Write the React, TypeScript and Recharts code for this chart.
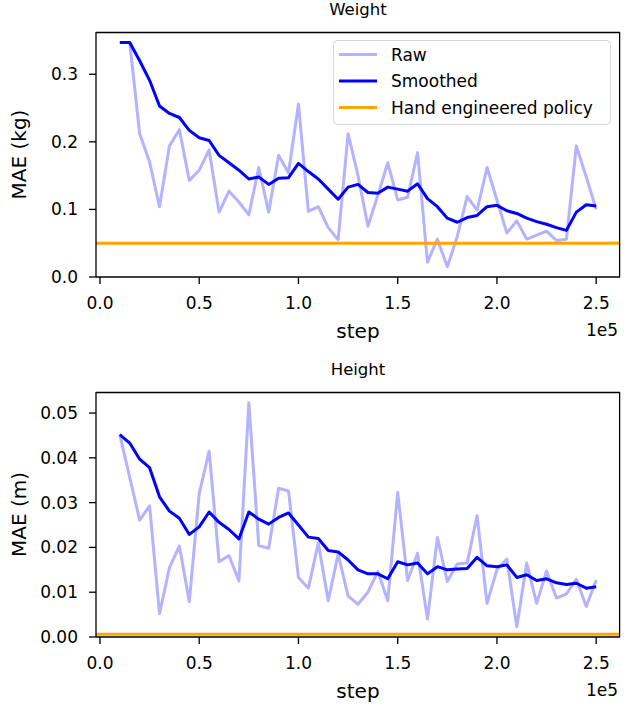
import React from 'react';
import { LineChart, Line, XAxis, YAxis, ReferenceLine, Label } from 'recharts';

// training steps of every logged point
const STEPS = [
  10000, 15000, 20000, 25000, 30000, 35000, 40000, 45000, 50000, 55000,
  60000, 65000, 70000, 75000, 80000, 85000, 90000, 95000, 100000, 105000,
  110000, 115000, 120000, 125000, 130000, 135000, 140000, 145000, 150000, 155000,
  160000, 165000, 170000, 175000, 180000, 185000, 190000, 195000, 200000, 205000,
  210000, 215000, 220000, 225000, 230000, 235000, 240000, 245000, 250000,
];

const WEIGHT_RAW = [
  0.347, 0.347, 0.212, 0.17, 0.104, 0.194, 0.218, 0.143, 0.158, 0.188,
  0.096, 0.127, 0.111, 0.092, 0.162, 0.096, 0.18, 0.154, 0.256, 0.097,
  0.104, 0.073, 0.055, 0.212, 0.15, 0.075, 0.121, 0.169, 0.114, 0.118,
  0.184, 0.022, 0.056, 0.015, 0.06, 0.119, 0.099, 0.162, 0.114, 0.065,
  0.083, 0.056, 0.062, 0.068, 0.054, 0.056, 0.194, 0.148, 0.1,
];

const WEIGHT_SMOOTHED = [
  0.347, 0.347, 0.32, 0.291, 0.253, 0.242, 0.236, 0.217, 0.206, 0.202,
  0.18, 0.169, 0.158, 0.145, 0.148, 0.137, 0.146, 0.147, 0.168, 0.156,
  0.145, 0.13, 0.115, 0.133, 0.137, 0.125, 0.124, 0.133, 0.13, 0.127,
  0.138, 0.116, 0.104, 0.087, 0.081, 0.088, 0.091, 0.104, 0.106, 0.098,
  0.094, 0.087, 0.082, 0.078, 0.073, 0.069, 0.096, 0.107, 0.105,
];

const HEIGHT_RAW = [
  0.0452, 0.0356, 0.0261, 0.0293, 0.0052, 0.0155, 0.0203, 0.0079, 0.032, 0.0415,
  0.0168, 0.0182, 0.0125, 0.0523, 0.0204, 0.0198, 0.0332, 0.0326, 0.0133, 0.0109,
  0.021, 0.0081, 0.0185, 0.0092, 0.0073, 0.01, 0.0146, 0.0081, 0.0323, 0.0126,
  0.0187, 0.004, 0.0222, 0.0124, 0.0163, 0.0165, 0.0271, 0.0075, 0.015, 0.0174,
  0.0023, 0.0165, 0.0075, 0.0147, 0.0087, 0.0096, 0.0129, 0.0068, 0.0127,
];

const HEIGHT_SMOOTHED = [
  0.0452, 0.0433, 0.0397, 0.0378, 0.0313, 0.0281, 0.0265, 0.0229, 0.0246, 0.0279,
  0.0256, 0.024, 0.0219, 0.0279, 0.0263, 0.0252, 0.0267, 0.0277, 0.025, 0.0223,
  0.022, 0.0193, 0.019, 0.0172, 0.015, 0.0141, 0.0141, 0.013, 0.0168, 0.0161,
  0.0165, 0.0141, 0.0157, 0.015, 0.0152, 0.0153, 0.0178, 0.0159, 0.0157, 0.0161,
  0.0133, 0.0139, 0.0126, 0.013, 0.0121, 0.0117, 0.012, 0.0109, 0.0112,
];

const WEIGHT_POLICY = 0.05;
const HEIGHT_POLICY = 0.0006;

const X_TICKS = [0, 50000, 100000, 150000, 200000, 250000];
const WEIGHT_TICKS = [0, 0.1, 0.2, 0.3];
const HEIGHT_TICKS = [0, 0.01, 0.02, 0.03, 0.04, 0.05];

const RAW_COLOR = '#b3b3ff';
const SMOOTH_COLOR = '#0000ff';
const POLICY_COLOR = '#ffa500';

const LEGEND_ITEMS = [
  { label: 'Raw', color: RAW_COLOR },
  { label: 'Smoothed', color: SMOOTH_COLOR },
  { label: 'Hand engineered policy', color: POLICY_COLOR },
];

const FONT = '"DejaVu Sans", sans-serif';
const X_DOMAIN: [number, number] = [-2000, 262000];
const SPINE = { stroke: '#000', strokeWidth: 1.3 };

// plot box inside each panel (matches margins + axis sizes below)
const PLOT_LEFT = 96;
const PLOT_TOP = 32;
const PLOT_W = 524;
const PLOT_H = 245;

function buildRows(raw: number[], smoothed: number[]) {
  return STEPS.map((step, i) => ({ step, raw: raw[i], smoothed: smoothed[i] }));
}

function LegendBox() {
  return (
    <svg
      width={278}
      height={85}
      style={{ position: 'absolute', left: 333, top: 40 }}
    >
      <rect x={0.5} y={0.5} width={277} height={84} rx={4} fill="rgba(255,255,255,0.8)" stroke="#d6d6d6" />
      {LEGEND_ITEMS.map((item, i) => {
        const cy = 14.5 + i * 26.5;
        return (
          <g key={item.label}>
            <line x1={6} x2={44} y1={cy} y2={cy} stroke={item.color} strokeWidth={3} />
            <text x={58} y={cy + 6} fontSize={17} fill="#000">
              {item.label}
            </text>
          </g>
        );
      })}
    </svg>
  );
}

interface PanelProps {
  title: string;
  yLabel: string;
  raw: number[];
  smoothed: number[];
  policy: number;
  yMax: number;
  yTicks: number[];
  yDigits: number;
  top: number;
  height: number;
  bottomMargin: number;
  legend?: boolean;
}

function Panel({ title, yLabel, raw, smoothed, policy, yMax, yTicks, yDigits, top, height, bottomMargin, legend }: PanelProps) {
  const data = buildRows(raw, smoothed);
  const plotMid = PLOT_TOP + PLOT_H / 2;

  return (
    <div style={{ position: 'absolute', left: 0, top, width: 637, height }}>
      <div
        style={{
          position: 'absolute',
          left: PLOT_LEFT,
          width: PLOT_W,
          top: 0,
          textAlign: 'center',
          fontSize: 16.5,
          lineHeight: '20px',
        }}
      >
        {title}
      </div>
      <LineChart
        width={637}
        height={height}
        data={data}
        margin={{ top: PLOT_TOP, right: 17, bottom: bottomMargin, left: 0 }}
      >
        <XAxis
          dataKey="step"
          type="number"
          domain={X_DOMAIN}
          ticks={X_TICKS}
          allowDataOverflow
          height={61}
          tickFormatter={(v: number) => (v / 1e5).toFixed(1)}
          tick={{ fill: '#000', fontSize: 17 }}
          tickSize={7}
          tickMargin={13}
          axisLine={SPINE}
          tickLine={SPINE}
        >
          <Label value="step" position="insideBottom" offset={0} fontSize={20} fill="#000" />
          <Label value="1e5" position="insideBottomRight" offset={2} fontSize={17} fill="#000" />
        </XAxis>
        <YAxis
          type="number"
          domain={[0, yMax]}
          ticks={yTicks}
          allowDataOverflow
          width={PLOT_LEFT}
          tickFormatter={(v: number) => v.toFixed(yDigits)}
          tick={{ fill: '#000', fontSize: 17 }}
          tickSize={7}
          tickMargin={11}
          axisLine={SPINE}
          tickLine={SPINE}
        >
          <Label
            content={() => (
              <text
                x={25.5}
                y={plotMid}
                transform={`rotate(-90 25.5 ${plotMid})`}
                textAnchor="middle"
                fontSize={20}
                fill="#000"
              >
                {yLabel}
              </text>
            )}
          />
        </YAxis>
        <Line
          dataKey="raw"
          stroke={RAW_COLOR}
          strokeWidth={3}
          strokeLinejoin="round"
          dot={false}
          activeDot={false}
          isAnimationActive={false}
        />
        <Line
          dataKey="smoothed"
          stroke={SMOOTH_COLOR}
          strokeWidth={3}
          strokeLinejoin="round"
          dot={false}
          activeDot={false}
          isAnimationActive={false}
        />
        <ReferenceLine y={policy} stroke={POLICY_COLOR} strokeWidth={3} />
        {/* top and right spines, kept just inside the plot limits */}
        <ReferenceLine y={yMax * 0.998} stroke="#000" strokeWidth={1.3} />
        <ReferenceLine x={X_DOMAIN[1] - 200} stroke="#000" strokeWidth={1.3} />
      </LineChart>
      {legend && <LegendBox />}
    </div>
  );
}

export default function App() {
  return (
    <div
      style={{
        position: 'absolute',
        left: 0,
        top: 0,
        width: 637,
        height: 706,
        overflow: 'hidden',
        background: '#fff',
        fontFamily: FONT,
        color: '#000',
      }}
    >
      <Panel
        title="Weight"
        yLabel="MAE (kg)"
        raw={WEIGHT_RAW}
        smoothed={WEIGHT_SMOOTHED}
        policy={WEIGHT_POLICY}
        yMax={0.3625}
        yTicks={WEIGHT_TICKS}
        yDigits={1}
        top={0}
        height={360}
        bottomMargin={22}
        legend
      />
      <Panel
        title="Height"
        yLabel="MAE (m)"
        raw={HEIGHT_RAW}
        smoothed={HEIGHT_SMOOTHED}
        policy={HEIGHT_POLICY}
        yMax={0.0547}
        yTicks={HEIGHT_TICKS}
        yDigits={2}
        top={360}
        height={346}
        bottomMargin={8}
      />
    </div>
  );
}
